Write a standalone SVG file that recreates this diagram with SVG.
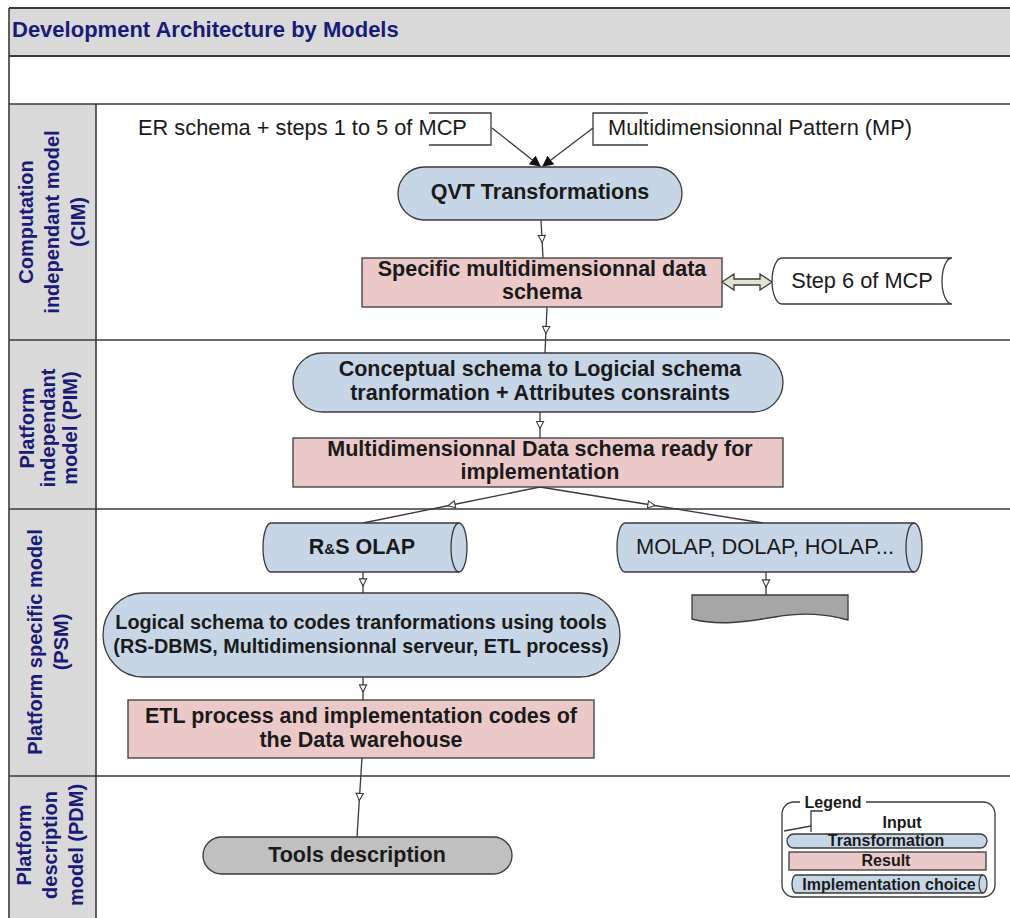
<svg xmlns="http://www.w3.org/2000/svg" width="1010" height="918" viewBox="0 0 1010 918">
<defs>
<style>
.frame{fill:none;stroke:#3a3a3a;stroke-width:1.6}
.hdr{fill:#d9d9d9;stroke:none}
.lane{font-family:"Liberation Sans",Arial,sans-serif;font-weight:bold;font-size:20px;fill:#1a1a78;text-anchor:middle}
.title{font-family:"Liberation Sans",Arial,sans-serif;font-weight:bold;font-size:22px;fill:#1a1a78}
.t{font-family:"Liberation Sans",Arial,sans-serif;font-size:21.8px;fill:#1a1a1a}
.b{font-family:"Liberation Sans",Arial,sans-serif;font-size:21.5px;font-weight:bold;fill:#1a1a1a;text-anchor:middle}
.bs{font-family:"Liberation Sans",Arial,sans-serif;font-size:19.8px;font-weight:bold;fill:#1a1a1a;text-anchor:middle}
.lg{font-family:"Liberation Sans",Arial,sans-serif;font-size:16px;font-weight:bold;fill:#1a1a1a;text-anchor:middle}
.blue{fill:#c7d6e7;stroke:#3a3a3a;stroke-width:1.3}
.pink{fill:#ecc9c9;stroke:#3a3a3a;stroke-width:1.3}
.conn{fill:none;stroke:#3a3a3a;stroke-width:1.3}
</style>
<marker id="tri" viewBox="0 0 10 10" refX="5" refY="5" markerWidth="9" markerHeight="9" markerUnits="userSpaceOnUse" orient="auto">
<path d="M1,1 L9,5 L1,9 Z" fill="#fff" stroke="#3a3a3a" stroke-width="1.2"/>
</marker>
<marker id="solid" viewBox="0 0 10 10" refX="9" refY="5" markerWidth="11" markerHeight="11" markerUnits="userSpaceOnUse" orient="auto">
<path d="M0,0 L10,5 L0,10 Z" fill="#111"/>
</marker>
</defs>

<!-- frame and lanes -->
<g id="frame">
<rect x="9" y="8" width="1010" height="48" class="hdr"/>
<rect x="9" y="104" width="87" height="814" class="hdr"/>
<line x1="9" y1="8" x2="1010" y2="8" stroke="#3a3a3a" stroke-width="2.2"/>
<line x1="9" y1="56" x2="1010" y2="56" stroke="#3a3a3a" stroke-width="2.2"/>
<line x1="9" y1="104" x2="1010" y2="104" class="frame"/>
<line x1="9" y1="340" x2="1010" y2="340" class="frame"/>
<line x1="9" y1="509" x2="1010" y2="509" class="frame"/>
<line x1="9" y1="776" x2="1010" y2="776" class="frame"/>
<line x1="9" y1="8" x2="9" y2="918" class="frame" stroke-width="2"/>
<line x1="96" y1="104" x2="96" y2="918" class="frame"/>
<text class="title" x="12" y="37">Development Architecture by Models</text>
</g>

<g id="lane-cim">
<text class="lane" transform="translate(33,222) rotate(-90)">Computation</text>
<text class="lane" transform="translate(59,222) rotate(-90)">independant model</text>
<text class="lane" transform="translate(85,222) rotate(-90)">(CIM)</text>
</g>
<g id="lane-pim">
<text class="lane" transform="translate(34,428) rotate(-90)">Platform</text>
<text class="lane" transform="translate(55,428) rotate(-90)">independant</text>
<text class="lane" transform="translate(77,428) rotate(-90)">model (PIM)</text>
</g>
<g id="lane-psm">
<text class="lane" transform="translate(42,642) rotate(-90)">Platform specific model</text>
<text class="lane" transform="translate(68,642) rotate(-90)">(PSM)</text>
</g>
<g id="lane-pdm">
<text class="lane" transform="translate(31,845) rotate(-90)">Platform</text>
<text class="lane" transform="translate(57,845) rotate(-90)">description</text>
<text class="lane" transform="translate(83,845) rotate(-90)">model (PDM)</text>
</g>

<!-- connectors -->
<g id="connectors">
<line x1="492" y1="128" x2="540" y2="166" class="conn" marker-end="url(#solid)"/>
<line x1="593" y1="128" x2="543" y2="166" class="conn" marker-end="url(#solid)"/>
<polyline points="541,220 542,239 543,258" class="conn" marker-mid="url(#tri)"/>
<polyline points="547,307 546,330 545,353" class="conn" marker-mid="url(#tri)"/>
<polyline points="540,412 540,425 540,438" class="conn" marker-mid="url(#tri)"/>
<polyline points="540,487 451.5,505 363,523" class="conn" marker-mid="url(#tri)"/>
<polyline points="540,487 651.5,505 763,523" class="conn" marker-mid="url(#tri)"/>
<polyline points="363,572 363,582.5 363,593" class="conn" marker-mid="url(#tri)"/>
<polyline points="766,572 766,583.5 766,595" class="conn" marker-mid="url(#tri)"/>
<polyline points="363,677 363,688.5 363,700" class="conn" marker-mid="url(#tri)"/>
<polyline points="362,758 359.5,797 357,837" class="conn" marker-mid="url(#tri)"/>
<polygon points="722,282 734,274 734,279 760,279 760,274 772,282 760,290 760,285 734,285 734,290" fill="#dfe5d0" stroke="#3a3a3a" stroke-width="1.3"/>
</g>

<!-- CIM nodes -->
<g id="input-er">
<polyline points="429,113 491,113 491,145 429,145" class="conn"/>
<text class="t" x="138" y="135">ER schema + steps 1 to 5 of MCP</text>
</g>
<g id="input-mp">
<polyline points="648,113 593,113 593,145 648,145" class="conn"/>
<text class="t" x="608" y="135">Multidimensionnal Pattern (MP)</text>
</g>
<g id="qvt">
<rect x="398" y="167" width="284" height="53" rx="26.5" class="blue"/>
<text class="b" x="540" y="199">QVT Transformations</text>
</g>
<g id="specific">
<rect x="362" y="258" width="360" height="49" class="pink"/>
<text class="b" x="542" y="276">Specific multidimensionnal data</text>
<text class="b" x="542" y="299">schema</text>
</g>
<g id="step6">
<path d="M782,258 L952,258 A10,23 0 0 0 952,304 L782,304 A10,23 0 0 1 782,258 Z" fill="#fff" stroke="#3a3a3a" stroke-width="1.3"/>
<text class="t" x="862" y="288" text-anchor="middle">Step 6 of MCP</text>
</g>

<!-- PIM nodes -->
<g id="conceptual">
<rect x="293" y="353" width="490" height="59" rx="29.5" class="blue"/>
<text class="b" x="540" y="376">Conceptual schema to Logicial schema</text>
<text class="b" x="540" y="400">tranformation + Attributes consraints</text>
</g>
<g id="ready">
<rect x="293" y="438" width="490" height="49" class="pink"/>
<text class="b" x="540" y="456">Multidimensionnal Data schema ready for</text>
<text class="b" x="540" y="479">implementation</text>
</g>

<!-- PSM nodes -->
<g id="rs-olap">
<path d="M271,523 L459,523 A8,24.5 0 0 1 459,572 L271,572 A8,24.5 0 0 1 271,523 Z" class="blue"/>
<path d="M459,523 A8,24.5 0 0 0 459,572" class="conn"/>
<text class="b" x="362" y="554">R<tspan style="font-size:15px">&amp;</tspan>S OLAP</text>
</g>
<g id="molap">
<path d="M625,523 L914,523 A8,24.5 0 0 1 914,572 L625,572 A8,24.5 0 0 1 625,523 Z" class="blue"/>
<path d="M914,523 A8,24.5 0 0 0 914,572" class="conn"/>
<text class="t" x="765" y="554" text-anchor="middle">MOLAP, DOLAP, HOLAP...</text>
</g>
<g id="doc">
<path d="M692,595 H848 V620 C826,614 805,612 775,617 C745,622 718,626 692,619 Z" fill="#a6a6a6" stroke="#3a3a3a" stroke-width="1.3"/>
</g>
<g id="logical">
<rect x="103" y="593" width="517" height="84" rx="40" ry="42" class="blue"/>
<text class="bs" x="361" y="629">Logical schema to codes tranformations using tools</text>
<text class="bs" x="361" y="653">(RS-DBMS, Multidimensionnal serveur, ETL process)</text>
</g>
<g id="etl">
<rect x="128" y="700" width="466" height="58" class="pink"/>
<text class="b" x="361" y="723">ETL process and implementation codes of</text>
<text class="b" x="361" y="747">the Data warehouse</text>
</g>

<!-- PDM nodes -->
<g id="tools">
<rect x="203" y="837" width="309" height="37" rx="18.5" fill="#c0c0c0" stroke="#3a3a3a" stroke-width="1.3"/>
<text class="b" x="357" y="862">Tools description</text>
</g>

<!-- Legend -->
<g id="legend">
<rect x="782" y="802" width="213" height="95" rx="12" fill="#fff" stroke="#3a3a3a" stroke-width="1.3"/>
<rect x="800" y="795" width="66" height="14" fill="#fff"/>
<text class="lg" x="833" y="808">Legend</text>
<polyline points="823,811 811,811 811,832" class="conn"/>
<line x1="784" y1="831" x2="811" y2="826" class="conn"/>
<text class="lg" x="902" y="828">Input</text>
<rect x="787" y="834" width="200" height="14" rx="7" class="blue"/>
<text class="lg" x="886" y="846">Transformation</text>
<rect x="789" y="852" width="197" height="18" class="pink"/>
<text class="lg" x="886" y="866">Result</text>
<path d="M796,875 L983,875 A4,9 0 0 1 983,893 L796,893 A4,9 0 0 1 796,875 Z" class="blue"/>
<path d="M983,875 A4,9 0 0 0 983,893" class="conn"/>
<text class="lg" x="889" y="890">Implementation choice</text>
</g>
</svg>
